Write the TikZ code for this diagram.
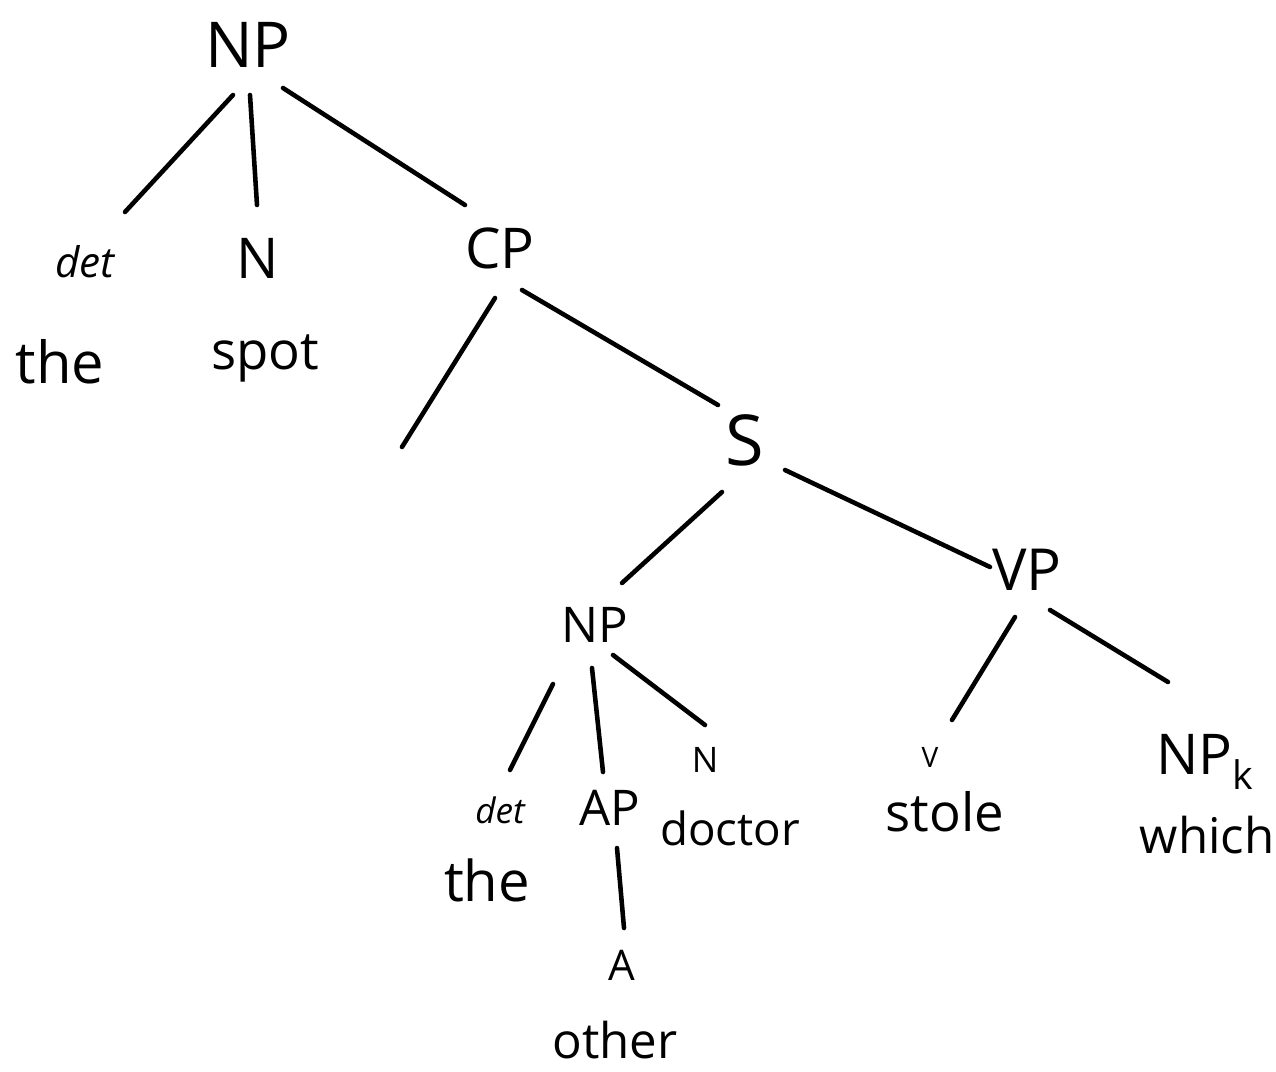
\documentclass[tikz,border=0pt]{standalone}
\usepackage{fontspec}
\setmainfont{Open Sans}
\newcommand{\fsz}[1]{\fontsize{#1}{#1}\selectfont}
\begin{document}
\begin{tikzpicture}[x=0.02cm,y=-0.02cm,
  lab/.style={inner sep=0pt},
  detl/.style={inner sep=0pt, font=\itshape\fsz{24}},
  branch/.style={line width=2.6pt, line cap=round}]
\fill[white] (0,0) rectangle (1276,1072);
\useasboundingbox (0,0) rectangle (1276,1072);
% nodes
\node[lab, font=\fsz{36}] (np0) at (248,45) {NP};
\node[detl] (det0) at (85,262) {det};
\node[lab, font=\fsz{33}] (the0) at (60,362) {the};
\node[lab, font=\fsz{32}] (n0) at (258,258) {N};
\node[lab, font=\fsz{30}] (spot) at (265,358) {spot};
\node[lab, font=\fsz{32}] (cp) at (500,248) {CP};
\coordinate (e0) at (402,447);
\node[lab, font=\fsz{40}] (s) at (745,440) {S};
\node[lab, font=\fsz{28}] (np1) at (595,625) {NP};
\node[lab, font=\fsz{33}] (vp) at (1027,570) {VP};
\node[detl, font=\itshape\fsz{20}] (det1) at (500,810) {det};
\node[lab, font=\fsz{32}] (the1) at (487,880) {the};
\node[lab, font=\fsz{28}] (ap) at (610,808) {AP};
\node[lab, font=\fsz{24}] (a) at (622,965) {A};
\node[lab, font=\fsz{28}] (other) at (615,1040) {other};
\node[lab, font=\fsz{20}] (n1) at (705,760) {N};
\node[lab, font=\fsz{26}] (doctor) at (730,828) {doctor};
\node[lab, font=\fsz{16}] (v) at (930,757) {V};
\node[lab, font=\fsz{30}] (stole) at (945,812) {stole};
\node[lab, font=\fsz{32}] (npk) at (1205,762) {NP\textsubscript{k}};
\node[lab, font=\fsz{28}] (which) at (1207,835) {which};
% branches
\draw[branch] ([shift={(-15,50)}]np0.center) -- ([shift={(40,-50)}]det0.center);
\draw[branch] ([shift={(2,50)}]np0.center) -- ([shift={(-1,-53)}]n0.center);
\draw[branch] ([shift={(35,43)}]np0.center) -- ([shift={(-35,-43)}]cp.center);
\draw[branch] ([shift={(-5,50)}]cp.center) -- (e0);
\draw[branch] ([shift={(22,42)}]cp.center) -- ([shift={(-27,-35)}]s.center);
\draw[branch] ([shift={(-23,52)}]s.center) -- ([shift={(27,-42)}]np1.center);
\draw[branch] ([shift={(40,30)}]s.center) -- ([shift={(-37,-3)}]vp.center);
\draw[branch] ([shift={(-42,59)}]np1.center) -- ([shift={(10,-40)}]det1.center);
\draw[branch] ([shift={(-3,43)}]np1.center) -- ([shift={(-7,-36)}]ap.center);
\draw[branch] ([shift={(18,30)}]np1.center) -- ([shift={(0,-35)}]n1.center);
\draw[branch] ([shift={(7,40)}]ap.center) -- ([shift={(2,-37)}]a.center);
\draw[branch] ([shift={(-12,47)}]vp.center) -- ([shift={(22,-37)}]v.center);
\draw[branch] ([shift={(23,40)}]vp.center) -- ([shift={(-37,-80)}]npk.center);
\end{tikzpicture}
\end{document}
